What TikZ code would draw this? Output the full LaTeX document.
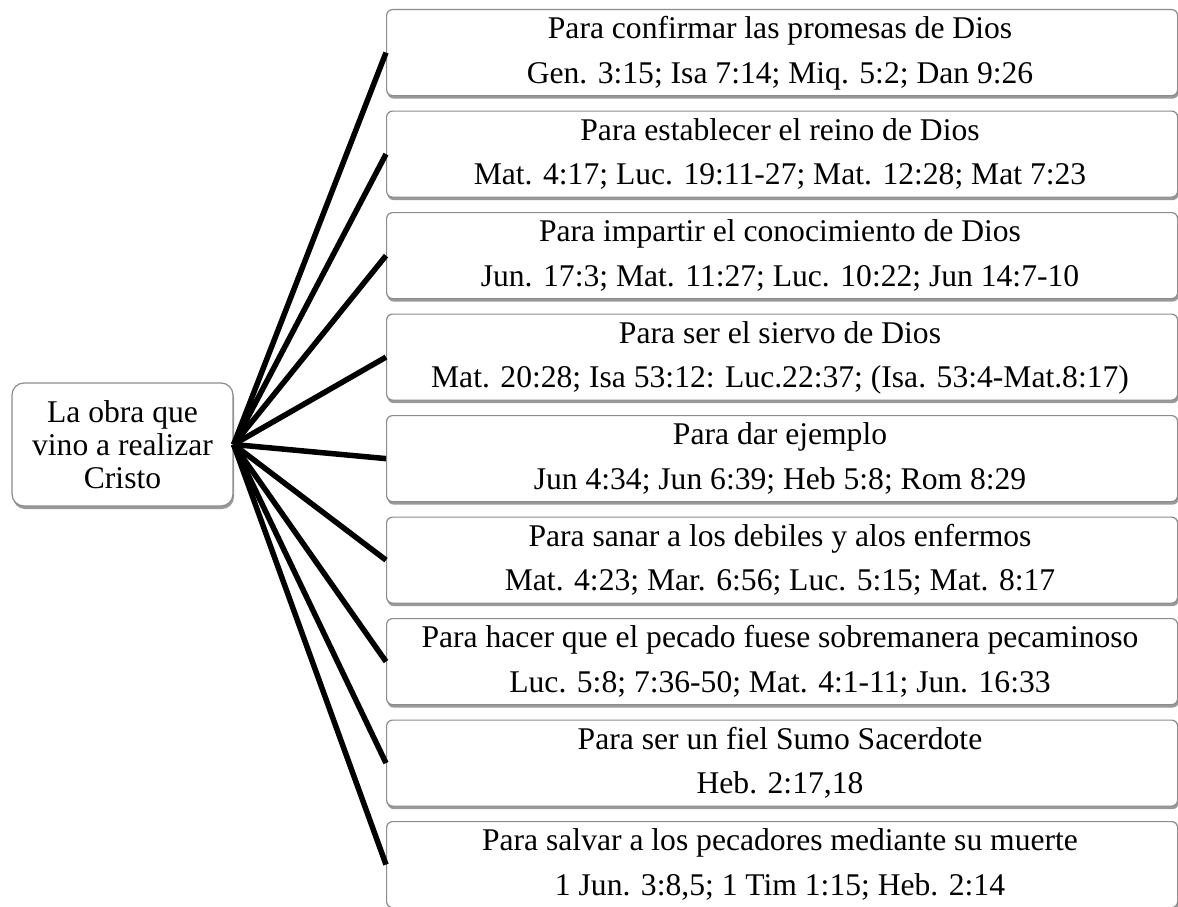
\documentclass[tikz,border=0pt]{standalone}
\usepackage{fontspec}
\setmainfont{Liberation Serif}
\usetikzlibrary{shadows}
\begin{document}
\begin{tikzpicture}[x=1pt,y=-1pt,
  shade/.style={drop shadow={shadow xshift=1pt, shadow yshift=-3pt, opacity=0.4, fill=black}},
  box/.style={draw=black!45, line width=1.2pt, rounded corners=6pt, fill=white,
    minimum width=791pt, minimum height=86pt, inner sep=0pt, anchor=north west, shade},
  lbox/.style={draw=black!45, line width=1.2pt, rounded corners=12pt, fill=white,
    minimum width=221pt, minimum height=123pt, inner sep=0pt, align=center,
    font=\fontsize{31.6}{33}\selectfont, shade},
  txt/.style={font=\fontsize{31.6}{31.6}\selectfont, inner sep=0pt, anchor=base},
  conn/.style={line width=5.5pt, black}
]
\clip (0,0) rectangle (1178,907);
\fill[white] (0,0) rectangle (1178,907);
\node[lbox] (L) at (122.5,444.5) {La obra que\\vino a realizar\\Cristo};
\foreach \i/\t/\r in {
  1/{Para confirmar las promesas de Dios}/{Gen. 3:15; Isa 7:14; Miq. 5:2; Dan 9:26},
  2/{Para establecer el reino de Dios}/{Mat. 4:17; Luc. 19:11-27; Mat. 12:28; Mat 7:23},
  3/{Para impartir el conocimiento de Dios}/{Jun. 17:3; Mat. 11:27; Luc. 10:22; Jun 14:7-10},
  4/{Para ser el siervo de Dios}/{Mat. 20:28; Isa 53:12: Luc.22:37; (Isa. 53:4-Mat.8:17)},
  5/{Para dar ejemplo}/{Jun 4:34; Jun 6:39; Heb 5:8; Rom 8:29},
  6/{Para sanar a los debiles y alos enfermos}/{Mat. 4:23; Mar. 6:56; Luc. 5:15; Mat. 8:17},
  7/{Para hacer que el pecado fuese sobremanera pecaminoso}/{Luc. 5:8; 7:36-50; Mat. 4:1-11; Jun. 16:33},
  8/{Para ser un fiel Sumo Sacerdote}/{Heb. 2:17,18},
  9/{Para salvar a los pecadores mediante su muerte}/{1 Jun. 3:8,5; 1 Tim 1:15; Heb. 2:14}} {
  \pgfmathsetmacro{\top}{9+101.5*(\i-1)}
  \node[box] (b\i) at (386,\top) {};
  \node[txt] (t\i) at (780,\top+29.5) {\t};
  \node[txt] (r\i) at (780,\top+74) {\r};
  \draw[conn] (L.east) -- (b\i.west);
}
\end{tikzpicture}
\end{document}
